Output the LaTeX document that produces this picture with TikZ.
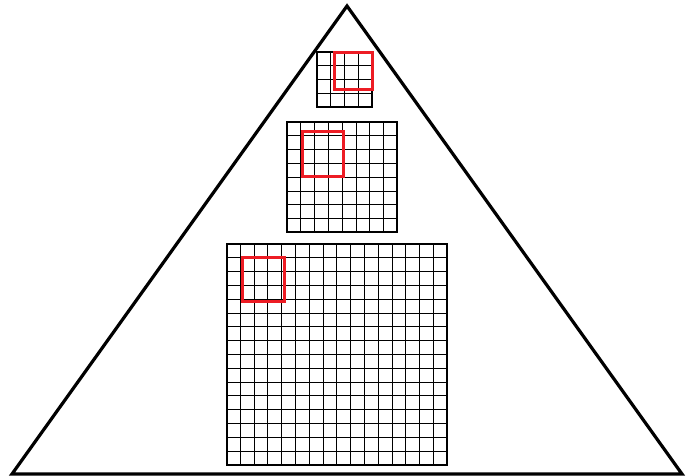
\documentclass[tikz,border=0pt]{standalone}
\usepackage{xcolor}
\usepackage{tikz}
\usetikzlibrary{calc}
\definecolor{pyrred}{RGB}{237, 28, 36}
\tikzset{
  pyr/.style={draw=black,line width=3.2pt,line join=miter},
  lvlframe/.style={draw=black,line width=2pt},
  lvlline/.style={draw=black,line width=0.9pt},
  roi/.style={draw=pyrred,line width=3pt},
}

\begin{document}
\begin{tikzpicture}[x=1pt,y=-1pt]
  \useasboundingbox (0,0) rectangle (691,476);
  \coordinate (apex) at (347,6);
  \coordinate (bl)   at (12,474);
  \coordinate (br)   at (682,474);

  % Top level (4x4)
  \coordinate (top) at (317,52);
  \foreach \i in {1,...,3}{
    \draw[lvlline] ($(top)+(\i*13.8,0)$) -- ++(0,55.2);
    \draw[lvlline] ($(top)+(0,\i*13.8)$) -- ++(55.2,0);
  }
  \draw[lvlframe] (top) rectangle ++(55.2,55.2);
  \draw[roi] (334,53) rectangle (372,90);

  % Middle level (8x8)
  \coordinate (mid) at (287,122);
  \foreach \i in {1,...,7}{
    \draw[lvlline] ($(mid)+(\i*13.8,0)$) -- ++(0,110.4);
    \draw[lvlline] ($(mid)+(0,\i*13.8)$) -- ++(110.4,0);
  }
  \draw[lvlframe] (mid) rectangle ++(110.4,110.4);
  \draw[roi] (302,132) rectangle (343,177);

  % Bottom level (16x16)
  \coordinate (bot) at (226.5,244);
  \foreach \i in {1,...,15}{
    \draw[lvlline] ($(bot)+(\i*13.8,0)$) -- ++(0,220.8);
    \draw[lvlline] ($(bot)+(0,\i*13.8)$) -- ++(220.8,0);
  }
  \draw[lvlframe] (bot) rectangle ++(220.8,220.8);
  \draw[roi] (242,257.5) rectangle (284.5,301);

  % Pyramid
  \draw[pyr] (apex) -- (bl) -- (br) -- cycle;
\end{tikzpicture}
\end{document}
